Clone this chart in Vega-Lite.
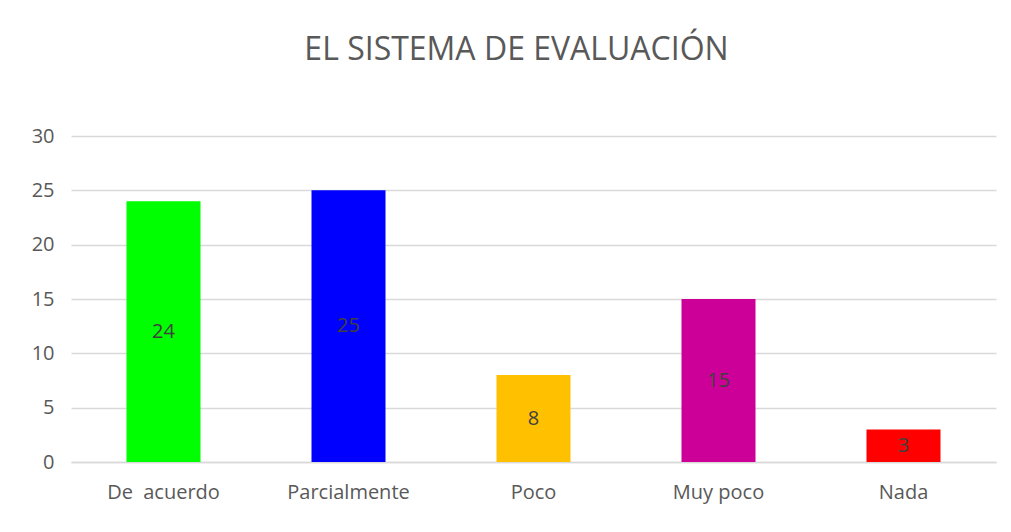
{
  "$schema": "https://vega.github.io/schema/vega-lite/v6.json",
  "autosize": {"type": "none"},
  "width": 925,
  "height": 326,
  "padding": {"left": 71, "top": 136, "right": 15, "bottom": 70},
  "background": "white",
  "title": {
    "text": "EL SISTEMA DE EVALUACIÓN",
    "font": "Open Sans",
    "fontSize": 32,
    "fontWeight": "normal",
    "color": "#595959",
    "anchor": "middle",
    "offset": 59,
    "dx": -17
  },
  "config": {
    "view": {"stroke": null},
    "font": "Open Sans"
  },
  "data": {
    "values": [
      {"categoria": "De\u00a0 acuerdo", "valor": 24, "color": "#00FF00"},
      {"categoria": "Parcialmente", "valor": 25, "color": "#0000FF"},
      {"categoria": "Poco", "valor": 8, "color": "#FFC000"},
      {"categoria": "Muy poco", "valor": 15, "color": "#CC0099"},
      {"categoria": "Nada", "valor": 3, "color": "#FF0000"}
    ]
  },
  "encoding": {
    "x": {
      "field": "categoria",
      "type": "nominal",
      "sort": null,
      "scale": {"paddingInner": 0.6, "paddingOuter": 0.3},
      "axis": {
        "title": null,
        "labelAngle": 0,
        "labelFontSize": 20,
        "labelColor": "#595959",
        "labelPadding": 20,
        "ticks": false,
        "domainColor": "#D9D9D9",
        "domainWidth": 1.5
      }
    }
  },
  "layer": [
    {
      "mark": {"type": "bar"},
      "encoding": {
        "y": {
          "field": "valor",
          "type": "quantitative",
          "scale": {"domain": [0, 30]},
          "axis": {
            "title": null,
            "values": [0, 5, 10, 15, 20, 25, 30],
            "labelFontSize": 20,
            "labelColor": "#595959",
            "labelPadding": 17,
            "ticks": false,
            "domain": false,
            "gridColor": "#D9D9D9",
            "gridWidth": 1.5
          }
        },
        "color": {"field": "color", "type": "nominal", "scale": null, "legend": null}
      }
    },
    {
      "transform": [{"calculate": "datum.valor / 2", "as": "mitad"}],
      "mark": {"type": "text", "fontSize": 20, "color": "#404040", "baseline": "middle"},
      "encoding": {
        "y": {"field": "mitad", "type": "quantitative"},
        "text": {"field": "valor", "type": "quantitative"}
      }
    }
  ]
}
